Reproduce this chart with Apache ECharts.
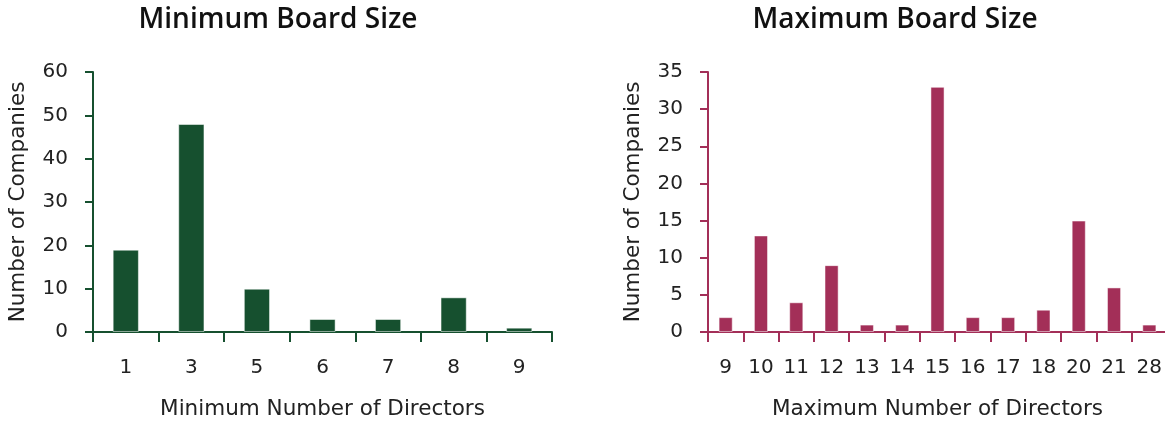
<!DOCTYPE html>
<html>
<head>
<meta charset="utf-8">
<script src="https://cdn.jsdelivr.net/npm/echarts@6/dist/echarts.min.js"></script>
<style>
  html, body { margin: 0; padding: 0; background: #fff; }
  #chart { width: 1165px; height: 421px; }
</style>
</head>
<body>
<div id="chart"></div>
<script>
// min board size
const minCats = ['1', '3', '5', '6', '7', '8', '9'];
const minVals = [19, 48, 10, 3, 3, 8, 1];
// max board size
const maxCats = ['9', '10', '11', '12', '13', '14', '15', '16', '17', '18', '20', '21', '28'];
const maxVals = [2, 13, 4, 9, 1, 1, 33, 2, 2, 3, 15, 6, 1];

const green = '#16502f';
const red = '#a32f58';
const font = 'DejaVu Sans';

function xAxisFor(cats, color, name, idx) {
  return {
    type: 'category',
    gridIndex: idx,
    data: cats,
    name: name,
    nameLocation: 'middle',
    nameGap: 66,
    nameTextStyle: { fontFamily: font, fontSize: 21.5, color: '#222' },
    axisLine: { lineStyle: { color: color, width: 2 } },
    axisTick: { show: true, length: 10, alignWithLabel: false, lineStyle: { color: color, width: 2 } },
    axisLabel: { margin: 26, fontFamily: font, fontSize: 20, color: '#222' }
  };
}

function yAxisFor(max, interval, color, idx) {
  return {
    type: 'value',
    gridIndex: idx,
    min: 0,
    max: max,
    interval: interval,
    name: 'Number of Companies',
    nameLocation: 'middle',
    nameGap: 64,
    nameTextStyle: { fontFamily: font, fontSize: 21.5, color: '#222' },
    axisLine: { show: true, lineStyle: { color: color, width: 2 } },
    axisTick: { show: true, length: 8, lineStyle: { color: color, width: 2 } },
    axisLabel: { margin: 25, fontFamily: font, fontSize: 20, color: '#222' },
    splitLine: { show: false }
  };
}

const titleStyle = { fontFamily: 'Open Sans', fontSize: 28, fontWeight: 600, color: '#111' };

const chart = echarts.init(document.getElementById('chart'));
chart.setOption({
  animation: false,
  title: [
    { text: 'Minimum Board Size', left: 273, top: 1, textAlign: 'center', textStyle: titleStyle },
    { text: 'Maximum Board Size', left: 890, top: 1, textAlign: 'center', textStyle: titleStyle }
  ],
  grid: [
    { left: 93, right: 613, top: 72, bottom: 89, outerBoundsMode: 'none' },
    { left: 708, right: -2, top: 72, bottom: 89, outerBoundsMode: 'none' }
  ],
  xAxis: [
    xAxisFor(minCats, green, 'Minimum Number of Directors', 0),
    xAxisFor(maxCats, red, 'Maximum Number of Directors', 1)
  ],
  yAxis: [
    yAxisFor(60, 10, green, 0),
    yAxisFor(35, 5, red, 1)
  ],
  series: [
    {
      type: 'bar', xAxisIndex: 0, yAxisIndex: 0, data: minVals, barWidth: '40%',
      itemStyle: { color: green, borderColor: 'rgba(255,255,255,0.5)', borderWidth: 1 }
    },
    {
      type: 'bar', xAxisIndex: 1, yAxisIndex: 1, data: maxVals, barWidth: '40%',
      itemStyle: { color: red, borderColor: 'rgba(255,255,255,0.5)', borderWidth: 1 }
    }
  ]
});
</script>
</body>
</html>
